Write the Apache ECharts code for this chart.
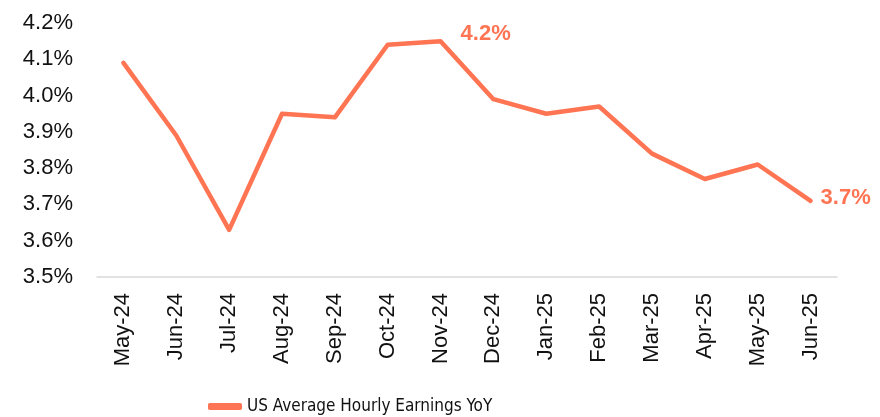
<!DOCTYPE html>
<html>
<head>
<meta charset="utf-8">
<script src="https://cdn.jsdelivr.net/npm/echarts@6/dist/echarts.min.js"></script>
<style>
  html, body { margin: 0; padding: 0; background: #fff; }
  #main { width: 880px; height: 417px; }
</style>
</head>
<body>
<div id="main"></div>
<script>
var months = ['May-24', 'Jun-24', 'Jul-24', 'Aug-24', 'Sep-24', 'Oct-24', 'Nov-24',
  'Dec-24', 'Jan-25', 'Feb-25', 'Mar-25', 'Apr-25', 'May-25', 'Jun-25'];
var earningsYoY = [4.09, 3.89, 3.63, 3.95, 3.94, 4.14, 4.15, 3.99, 3.95, 3.97, 3.84, 3.77, 3.81, 3.71];
var labelledIdx = [6, 13]; // Nov-24 and the last point
var yTicks = { min: 3.5, max: 4.2, step: 0.1 };

var lineColor = '#ff7452';

var seriesData = earningsYoY.map(function (v, i) {
  if (labelledIdx.indexOf(i) < 0) return v;
  var last = i === earningsYoY.length - 1;
  return {
    value: v,
    label: {
      show: true,
      position: 'right',
      distance: last ? 10 : 20,
      offset: last ? [0, -3] : [0, -7],
      color: lineColor,
      fontFamily: 'Liberation Sans, Arial, sans-serif',
      fontWeight: 'bold',
      fontSize: 22,
      formatter: function (p) { return p.value.toFixed(1) + '%'; }
    }
  };
});

var myChart = echarts.init(document.getElementById('main'));
var option = {
  animation: false,
  grid: {
    left: 97,
    right: 43,
    top: 23,
    bottom: 140
  },
  legend: {
    left: 203,
    top: 393,
    icon: 'roundRect',
    itemWidth: 34,
    itemHeight: 7,
    itemGap: 6,
    itemStyle: { opacity: 1, color: lineColor },
    textStyle: {
      fontFamily: 'DejaVu Sans Condensed, Liberation Sans Narrow, sans-serif',
      fontSize: 17,
      color: '#111'
    },
    data: ['US Average Hourly Earnings YoY']
  },
  xAxis: {
    type: 'category',
    data: months,
    boundaryGap: true,
    axisLine: { lineStyle: { color: '#d9d9d9', width: 1.5 } },
    axisTick: { show: false },
    axisLabel: {
      rotate: 90,
      margin: 16,
      color: '#111',
      fontFamily: 'Liberation Sans, Arial, sans-serif',
      fontSize: 22
    }
  },
  yAxis: {
    type: 'value',
    min: yTicks.min,
    max: yTicks.max,
    interval: yTicks.step,
    axisLine: { show: false },
    axisTick: { show: false },
    splitLine: { show: false },
    axisLabel: {
      margin: 24,
      color: '#111',
      fontFamily: 'Liberation Sans, Arial, sans-serif',
      fontSize: 22,
      formatter: function (v) { return v.toFixed(1) + '%'; }
    }
  },
  series: [
    {
      name: 'US Average Hourly Earnings YoY',
      type: 'line',
      data: seriesData,
      symbol: 'circle',
      symbolSize: 0,
      showSymbol: true,
      color: lineColor,
      itemStyle: { color: lineColor },
      lineStyle: { color: lineColor, width: 4.5, cap: 'round', join: 'round' }
    }
  ]
};
myChart.setOption(option);
window.onresize = function () {
  if (myChart) {
    myChart.resize();
  }
};
</script>
</body>
</html>
